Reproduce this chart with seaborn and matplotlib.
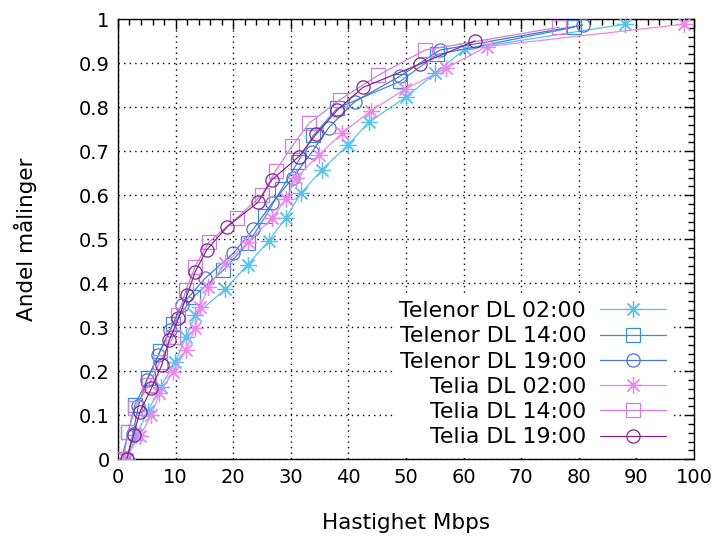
"""
CDF of download speed, Telenor vs Telia at three times of day.
"""
import numpy as np
import pandas as pd
import matplotlib
matplotlib.use("Agg")
import matplotlib.pyplot as plt
from matplotlib.ticker import MultipleLocator
import seaborn as sns

# %% Data
tn02_x = [1.5, 3.2, 5.2, 7.4, 9.9, 11.8, 13.4, 18.6, 22.5, 26.2, 29.1, 31.8, 35.4, 39.9, 43.6, 50.0, 55.0, 60.2, 88.0]
tn02_y = [0, .055, .11, .165, .22, .277, .328, .386, .442, .497, .548, .605, .658, .714, .767, .823, .877, .932, .989]

tn14_x = [0.6, 1.8, 2.9, 5.2, 7.3, 9.6, 13.0, 18.3, 22.6, 25.6, 28.4, 31.2, 33.9, 38.1, 49.0, 55.4, 79.2]
tn14_y = [0, .061, .123, .184, .245, .307, .368, .43, .491, .552, .614, .675, .736, .798, .859, .92, .982]

tn19_x = [1.5, 2.6, 3.5, 5.0, 7.0, 9.0, 11.1, 15.1, 20.0, 23.5, 26.8, 30.3, 33.7, 36.6, 41.1, 49.0, 55.9, 80.7]
tn19_y = [0, .058, .12, .18, .237, .294, .351, .411, .468, .523, .583, .639, .699, .754, .813, .871, .93, .987]

te02_x = [1.2, 3.8, 5.8, 7.2, 9.6, 11.8, 13.4, 14.2, 15.7, 18.6, 22.6, 26.7, 29.2, 30.9, 34.9, 38.9, 43.9, 49.8, 57.0, 64.0, 98.3]
te02_y = [0, .053, .1, .15, .199, .248, .298, .345, .392, .445, .494, .548, .591, .639, .692, .741, .792, .841, .889, .938, .989]

te14_x = [0.9, 1.8, 2.9, 5.4, 7.3, 9.6, 10.5, 11.8, 13.4, 15.8, 20.6, 25.0, 27.4, 30.2, 33.2, 38.5, 45.2, 53.3, 76.6]
te14_y = [0, .063, .116, .169, .222, .279, .328, .385, .438, .494, .548, .601, .656, .711, .764, .817, .873, .93, .982]

te19_x = [1.5, 2.7, 3.8, 5.8, 7.6, 8.9, 10.5, 12.0, 13.4, 15.4, 19.0, 24.3, 26.7, 31.4, 34.4, 38.1, 42.5, 52.4, 62.0]
te19_y = [0, .055, .108, .161, .214, .271, .32, .373, .426, .476, .529, .584, .635, .688, .739, .794, .845, .898, .951]

y_ticklabels = ["0", "0.1", "0.2", "0.3", "0.4", "0.5", "0.6", "0.7", "0.8", "0.9", "1"]

series = [
    ("Telenor DL 02:00", tn02_x, tn02_y, "#56c2ee", (8, 2, 0)),
    ("Telenor DL 14:00", tn14_x, tn14_y, "#3b8ed6", "s"),
    ("Telenor DL 19:00", tn19_x, tn19_y, "#4a74cc", "o"),
    ("Telia DL 02:00",   te02_x, te02_y, "#ec86ec", (8, 2, 0)),
    ("Telia DL 14:00",   te14_x, te14_y, "#cf7fda", "s"),
    ("Telia DL 19:00",   te19_x, te19_y, "#87258c", "o"),
]

# %% Plot
sns.set_theme(style="white")
plt.rcParams["font.family"] = ["DejaVu Sans"]
plt.rcParams["text.color"] = "black"
plt.rcParams["axes.labelcolor"] = "black"

fig = plt.figure(figsize=(7.22, 5.39), dpi=100)
ax = fig.add_axes([0.1634, 0.1479, 0.7978, 0.8163])

for label, xs, ys, col, mk in series:
    df = pd.DataFrame({"x": xs, "y": ys})
    size = 12 if mk == (8, 2, 0) else 9.5
    sns.lineplot(data=df, x="x", y="y", ax=ax, sort=False, estimator=None,
                 color=col, linewidth=0.9, label=label,
                 marker=mk, markersize=size, markerfacecolor="none",
                 markeredgecolor=col, markeredgewidth=0.9, zorder=3)

ax.set_xlim(0, 100)
ax.set_ylim(0, 1)
ax.xaxis.set_major_locator(MultipleLocator(10))
ax.xaxis.set_minor_locator(MultipleLocator(2))
ax.yaxis.set_minor_locator(MultipleLocator(0.02))
ax.set_yticks(np.arange(0, 1.01, 0.1))
ax.set_yticklabels(y_ticklabels)

ax.tick_params(which="both", direction="in", top=True, right=True, colors="black",
               labelsize=14, pad=6)
ax.tick_params(which="major", length=7, width=1)
ax.tick_params(which="minor", length=4, width=1)
for sp in ax.spines.values():
    sp.set_color("black")
    sp.set_linewidth(1)

ax.grid(True, which="major", color="black", linestyle=(0, (1, 3)), linewidth=1)
ax.set_axisbelow(True)

ax.set_xlabel("Hastighet Mbps", fontsize=15.5, labelpad=19)
ax.set_ylabel("Andel målinger", fontsize=15.5, labelpad=30)

leg = ax.legend(loc="lower right", bbox_to_anchor=(0.963, 0.012), markerfirst=False,
                fontsize=15.8, handlelength=3.0, handletextpad=0.64, labelspacing=0.24,
                frameon=True, fancybox=False, borderpad=0.3, borderaxespad=0.0)
leg.get_frame().set_facecolor("white")
leg.get_frame().set_edgecolor("none")
leg.get_frame().set_alpha(1)
for t in leg.get_texts():
    t.set_color("black")

fig.savefig("out.png", dpi=100)
